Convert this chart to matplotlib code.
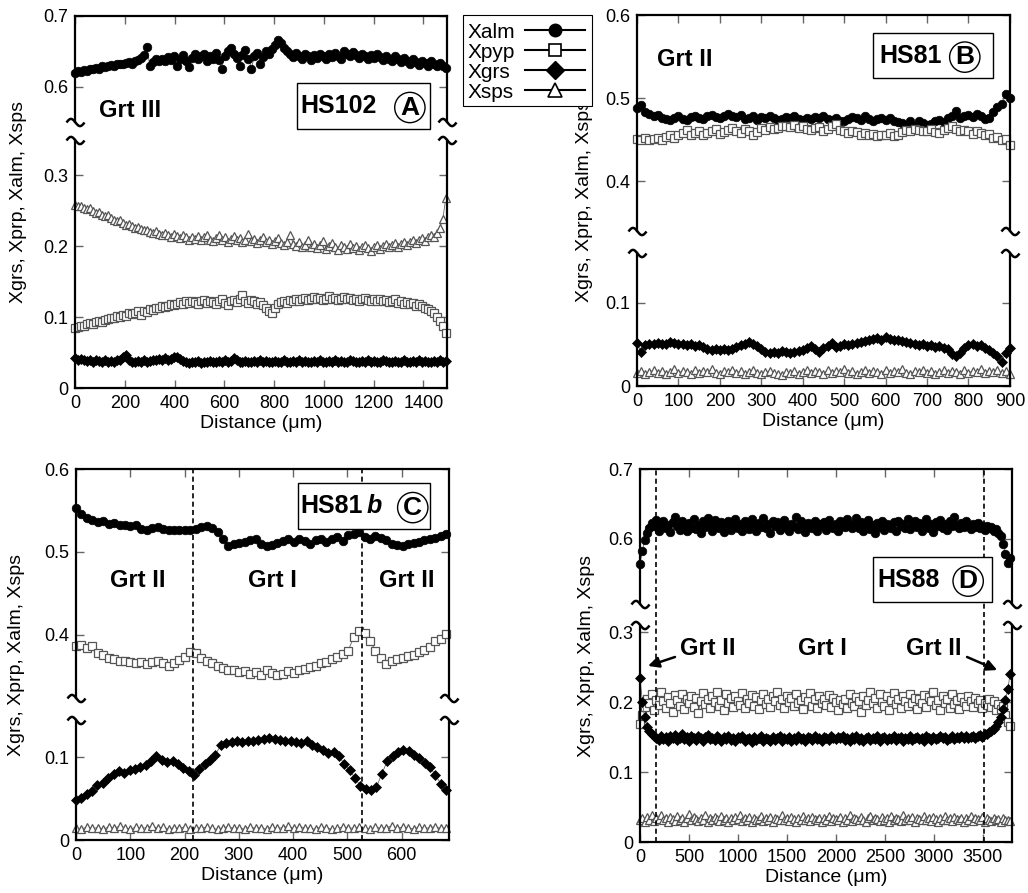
import numpy as np
import matplotlib.pyplot as plt
import matplotlib.transforms as mtransforms
from matplotlib.lines import Line2D
from matplotlib.patches import Rectangle
from matplotlib.path import Path
from matplotlib.ticker import NullLocator

plt.rcParams['font.family'] = ['Liberation Sans', 'DejaVu Sans']

# ---- profile data (mole fractions along the traverse) ----
# HS102, 0-1490 um
a_end = 1490
a_alm = [.619, .622, .621, .624, .623, .626, .625, .627, .626, .629,
         .628, .630, .631, .629, .632, .633, .632, .634, .635, .633,
         .636, .638, .641, .645, .656, .630, .635, .639, .637, .640,
         .636, .642, .638, .644, .629, .640, .645, .637, .628, .641,
         .646, .639, .643, .647, .636, .644, .640, .648, .638, .626,
         .643, .650, .655, .647, .641, .629, .645, .652, .640, .626,
         .644, .648, .632, .642, .650, .646, .653, .659, .666, .662,
         .655, .650, .646, .642, .648, .644, .640, .647, .643, .638,
         .645, .641, .647, .643, .639, .646, .642, .648, .644, .640,
         .651, .646, .643, .649, .645, .641, .647, .643, .639, .645,
         .641, .646, .642, .638, .644, .640, .636, .643, .639, .635,
         .641, .637, .633, .639, .635, .631, .637, .634, .630, .636,
         .632, .629, .634, .630, .627]
a_pyp = [.084, .086, .088, .087, .090, .091, .090, .093, .094, .093,
         .096, .097, .099, .098, .101, .100, .103, .102, .105, .104,
         .106, .108, .103, .109, .107, .111, .110, .113, .112, .115,
         .114, .116, .118, .117, .119, .121, .118, .122, .120, .123,
         .121, .119, .122, .124, .120, .123, .121, .118, .122, .125,
         .120, .117, .122, .124, .121, .126, .131, .123, .120, .124,
         .122, .119, .121, .117, .113, .108, .106, .112, .118, .121,
         .123, .120, .124, .122, .126, .123, .125, .127, .124, .126,
         .128, .125, .127, .124, .126, .129, .125, .127, .124, .126,
         .128, .125, .127, .124, .126, .123, .125, .127, .124, .122,
         .125, .123, .126, .122, .124, .121, .123, .125, .120, .122,
         .119, .121, .118, .120, .116, .118, .115, .113, .111, .109,
         .105, .100, .095, .088, .078]
a_grs = [.042, .040, .041, .039, .038, .040, .037, .039, .038, .036,
         .039, .037, .038, .036, .039, .040, .043, .047, .040, .037,
         .036, .038, .037, .039, .036, .038, .040, .039, .041, .040,
         .042, .039, .041, .043, .044, .041, .038, .036, .035, .037,
         .036, .038, .035, .037, .036, .038, .037, .036, .038, .037,
         .039, .037, .038, .042, .039, .036, .037, .038, .036, .037,
         .038, .036, .039, .037, .038, .036, .037, .038, .036, .037,
         .039, .037, .036, .038, .037, .039, .036, .038, .037, .036,
         .038, .037, .039, .036, .037, .038, .036, .039, .037, .038,
         .036, .037, .039, .038, .036, .037, .038, .036, .039, .037,
         .038, .036, .037, .039, .038, .036, .037, .038, .036, .037,
         .039, .037, .036, .038, .037, .039, .036, .038, .037, .036,
         .038, .037, .039, .036, .038]
a_sps = [.258, .256, .257, .254, .252, .253, .249, .247, .248, .244,
         .242, .243, .239, .237, .235, .236, .232, .230, .231, .228,
         .226, .227, .224, .222, .223, .220, .218, .221, .217, .215,
         .219, .216, .213, .217, .214, .211, .215, .212, .209, .213,
         .210, .214, .208, .212, .216, .209, .207, .211, .215, .208,
         .212, .206, .210, .214, .208, .211, .205, .209, .217, .207,
         .210, .204, .208, .212, .205, .209, .203, .207, .211, .204,
         .201, .206, .215, .203, .200, .205, .199, .202, .208, .198,
         .203, .197, .201, .207, .196, .200, .204, .198, .195, .202,
         .199, .196, .203, .197, .200, .194, .198, .201, .197, .193,
         .199, .202, .196, .200, .203, .198, .201, .204, .199, .203,
         .206, .201, .205, .209, .204, .208, .211, .207, .212, .215,
         .213, .219, .226, .238, .268]

# HS81, 0-900 um
b_end = 900
b_alm = [.488, .492, .483, .481, .478, .480, .476, .475, .474, .476, .478, .475, .474, .477, .479,
         .476, .475, .478, .480, .477, .476, .479, .481, .478, .477, .480, .475, .476, .478, .474,
         .477, .476, .478, .476, .474, .475, .477, .476, .479, .475, .474, .476, .475, .477, .476,
         .478, .475, .474, .476, .473, .472, .475, .477, .476, .474, .478, .475, .473, .475, .476,
         .474, .476, .473, .471, .470, .468, .472, .467, .472, .470, .468, .469, .472, .474, .471,
         .476, .478, .484, .476, .479, .480, .477, .481, .478, .475, .476, .483, .489, .493, .505, .500]
b_pyp = [.451, .450, .452, .449, .451, .452, .450, .453, .455, .452, .456, .458, .462, .455, .458,
         .460, .456, .458, .461, .463, .457, .459, .462, .464, .460, .458, .463, .461, .455, .459,
         .464, .462, .465, .463, .464, .466, .467, .465, .468, .464, .466, .463, .462, .464, .465,
         .461, .463, .466, .469, .462, .460, .458, .461, .459, .456, .458, .455, .457, .454, .456,
         .455, .458, .454, .456, .459, .462, .461, .463, .462, .460, .461, .463, .459, .458, .462,
         .464, .466, .463, .461, .462, .460, .457, .460, .458, .455, .457, .452, .453, .449, .451, .444]
b_grs = [.052, .041, .049, .051, .050, .052, .051, .050, .053, .052, .050, .051, .049, .050, .048,
         .049, .047, .045, .043, .044, .043, .044, .043, .045, .047, .049, .051, .053, .050, .048,
         .044, .041, .040, .041, .040, .042, .041, .040, .041, .042, .043, .046, .048, .045, .041,
         .046, .048, .052, .047, .048, .050, .049, .051, .052, .053, .054, .055, .057, .058, .056,
         .059, .057, .055, .056, .054, .053, .052, .051, .049, .050, .048, .049, .047, .048, .046,
         .044, .038, .036, .040, .046, .049, .050, .048, .049, .046, .043, .040, .036, .029, .040, .046]
b_sps = [.016, .018, .015, .017, .019, .016, .018, .015, .017, .020, .016, .018, .017, .015, .019,
         .016, .018, .017, .020, .016, .015, .018, .017, .019, .016, .018, .015, .017, .019, .016,
         .014, .017, .018, .016, .015, .013, .017, .016, .018, .015, .017, .019, .016, .018, .017,
         .015, .019, .016, .018, .017, .020, .016, .018, .015, .017, .019, .016, .018, .017, .015,
         .019, .016, .018, .017, .020, .016, .015, .018, .017, .019, .016, .018, .015, .017, .019,
         .016, .018, .017, .015, .019, .016, .018, .017, .020, .016, .018, .017, .019, .016, .018, .015]

# HS81b, 0-682 um
c_end = 682
c_alm = [.553, .546, .541, .538, .536, .537, .534, .535, .533, .532, .531, .533, .528, .527, .529,
         .530, .528, .526, .527, .526, .527, .527, .528, .530, .531, .529, .524, .516, .507, .509,
         .511, .512, .514, .516, .510, .507, .508, .511, .513, .515, .512, .516, .513, .510, .514,
         .516, .512, .515, .518, .513, .521, .522, .524, .518, .516, .519, .517, .514, .509, .508,
         .507, .509, .511, .512, .514, .516, .517, .519, .522]
c_pyp = [.387, .388, .384, .386, .378, .376, .372, .371, .369, .368, .367, .366, .367, .365, .367,
         .368, .366, .362, .366, .370, .373, .379, .378, .372, .369, .366, .363, .360, .358, .357,
         .355, .356, .353, .355, .352, .357, .354, .352, .353, .356, .354, .357, .359, .361, .363,
         .366, .367, .371, .373, .377, .381, .397, .405, .402, .393, .381, .372, .365, .368, .371,
         .372, .374, .376, .379, .382, .385, .392, .395, .401]
c_grs = [.048, .051, .055, .059, .066, .069, .075, .080, .083, .081, .084, .086, .088, .091, .095,
         .101, .097, .094, .095, .092, .087, .083, .078, .086, .092, .096, .103, .115, .117, .118,
         .119, .118, .119, .120, .121, .122, .123, .122, .121, .120, .119, .118, .117, .119, .115,
         .112, .108, .105, .106, .101, .092, .084, .075, .065, .062, .060, .064, .080, .095, .101,
         .106, .108, .107, .103, .099, .093, .088, .078, .068, .060]
c_sps = [.015, .013, .016, .014, .015, .013, .016, .014, .017, .015, .013, .016, .014, .015, .017,
         .014, .016, .013, .015, .014, .016, .013, .015, .014, .016, .014, .013, .015, .016, .014,
         .015, .013, .016, .014, .015, .013, .016, .014, .015, .017, .014, .016, .015, .014, .013,
         .016, .015, .013, .014, .016, .015, .014, .016, .015, .013, .016, .014, .015, .017, .014,
         .016, .015, .013, .016, .014, .015, .016, .014, .015]
c_bounds = [215, 527]

# HS88, 0-3780 um
d_end = 3780
d_alm = [.564, .583, .598, .609, .616, .623, .618, .627, .612, .621,
         .626, .615, .620, .610, .624, .631, .618, .613, .626, .619,
         .611, .623, .616, .628, .614, .620, .609, .625, .617, .630,
         .622, .612, .627, .619, .615, .624, .610, .621, .626, .613,
         .618, .629, .616, .622, .611, .625, .619, .614, .628, .620,
         .612, .623, .617, .630, .615, .621, .609, .626, .618, .624,
         .613, .620, .627, .616, .611, .622, .619, .632, .614, .625,
         .617, .610, .623, .620, .615, .626, .612, .621, .618, .624,
         .613, .627, .619, .616, .622, .611, .625, .620, .617, .628,
         .621, .615, .619, .630, .616, .624, .612, .618, .627, .614,
         .620, .609, .623, .617, .626, .613, .621, .618, .615, .624,
         .611, .625, .619, .622, .616, .628, .614, .620, .626, .617,
         .623, .612, .618, .629, .615, .621, .610, .624, .619, .627,
         .616, .622, .613, .626, .618, .631, .620, .615, .623, .617,
         .625, .619, .614, .621, .617, .623, .616, .619, .613, .618,
         .615, .617, .612, .614, .609, .604, .593, .579, .566, .573]
d_pyp = [.168, .181, .193, .205, .198, .211, .189, .203, .196, .214,
         .201, .192, .207, .199, .186, .210, .203, .195, .212, .190,
         .204, .198, .209, .193, .206, .184, .201, .213, .197, .205,
         .192, .208, .200, .215, .194, .203, .189, .211, .199, .206,
         .193, .209, .202, .196, .213, .191, .204, .199, .210, .195,
         .207, .190, .203, .212, .197, .205, .193, .208, .201, .214,
         .196, .204, .191, .209, .200, .206, .194, .211, .198, .203,
         .190, .207, .201, .213, .195, .205, .192, .209, .199, .204,
         .196, .210, .193, .206, .200, .188, .203, .197, .205, .191,
         .212, .199, .194, .207, .201, .186, .209, .196, .203, .215,
         .198, .206, .192, .211, .200, .195, .208, .189, .203, .213,
         .197, .205, .191, .209, .202, .194, .212, .199, .206, .190,
         .204, .198, .210, .193, .207, .201, .214, .196, .203, .188,
         .209, .199, .205, .192, .211, .197, .203, .190, .207, .200,
         .195, .208, .201, .193, .206, .198, .203, .191, .199, .196,
         .204, .193, .201, .188, .197, .190, .194, .182, .172, .166]
d_grs = [.235, .200, .178, .165, .158, .154, .151, .149, .146, .152,
         .147, .150, .144, .151, .148, .153, .146, .149, .155, .147,
         .150, .145, .152, .148, .146, .151, .149, .144, .150, .153,
         .147, .149, .146, .151, .148, .145, .150, .147, .152, .146,
         .149, .144, .150, .148, .151, .145, .147, .149, .143, .150,
         .146, .148, .152, .145, .149, .147, .144, .150, .146, .148,
         .151, .145, .149, .147, .150, .144, .148, .146, .151, .147,
         .149, .145, .150, .148, .146, .151, .147, .149, .145, .150,
         .148, .146, .151, .149, .147, .150, .148, .152, .146, .149,
         .145, .150, .147, .151, .146, .149, .144, .148, .150, .146,
         .149, .147, .151, .145, .148, .150, .146, .149, .147, .152,
         .146, .148, .150, .145, .149, .147, .151, .146, .148, .150,
         .147, .149, .145, .151, .148, .146, .150, .147, .149, .152,
         .148, .150, .146, .149, .151, .147, .150, .148, .152, .149,
         .151, .148, .150, .152, .149, .151, .153, .150, .154, .155,
         .157, .159, .162, .166, .171, .179, .190, .203, .218, .240]
d_sps = [.031, .034, .029, .036, .032, .038, .030, .035, .033, .039,
         .031, .034, .028, .036, .033, .030, .037, .032, .035, .029,
         .034, .040, .031, .036, .033, .030, .035, .032, .038, .029,
         .034, .031, .036, .033, .030, .037, .032, .034, .028, .035,
         .031, .036, .033, .039, .030, .034, .032, .036, .029, .035,
         .031, .033, .037, .030, .034, .032, .036, .029, .035, .033,
         .031, .038, .032, .034, .030, .036, .033, .029, .035, .031,
         .037, .032, .034, .030, .036, .033, .031, .035, .029, .034,
         .032, .037, .030, .035, .033, .031, .036, .029, .034, .032,
         .038, .030, .035, .033, .031, .036, .032, .028, .034, .037,
         .031, .035, .033, .030, .036, .032, .034, .029, .037, .031,
         .035, .033, .030, .038, .032, .034, .031, .036, .029, .035,
         .033, .031, .037, .032, .034, .030, .036, .033, .029, .035,
         .031, .037, .032, .034, .030, .036, .033, .031, .035, .029,
         .034, .032, .037, .030, .035, .033, .031, .036, .029, .034,
         .032, .030, .035, .031, .033, .029, .034, .031, .032, .030]
d_bounds = [163, 3510]

legend_labels = ['Xalm', 'Xpyp', 'Xgrs', 'Xsps']

W, H = 1028, 893
fig = plt.figure(figsize=(W / 100, H / 100), dpi=100)

# open tilde used as the axis-break mark
_t = np.linspace(-1, 1, 31)
TILDE = Path(np.column_stack([_t, -0.4 * np.sin(np.pi * _t)]))

STYLES = {
    'alm': dict(marker='o', ms=6.2, mfc='k', mec='k', mew=0.5),
    'pyp': dict(marker='s', ms=5.8, mfc='white', mec='#555', mew=0.9),
    'grs': dict(marker='D', ms=5.6, mfc='k', mec='k', mew=0.5),
    'sps': dict(marker='^', ms=6.4, mfc='white', mec='#555', mew=0.9),
}


def broken_scale(lo_max, hi_min, gap):
    src = [-10.0, lo_max, hi_min, 10.0]
    dst = [-10.0, lo_max, lo_max + gap, 10.0 - hi_min + lo_max + gap]
    return (lambda y: np.interp(y, src, dst)), (lambda v: np.interp(v, dst, src))


def setup_panel(rect, xlim, xticks, ylim, seg, yticks, ylab_x):
    ax = fig.add_axes(rect)
    ax.set_yscale('function', functions=broken_scale(*seg))
    ax.set_xlim(*xlim)
    ax.set_ylim(*ylim)
    ax.set_xticks(xticks)
    ax.set_yticks(yticks, ['0' if v == 0 else f'{v:.1f}' for v in yticks])
    ax.yaxis.set_minor_locator(NullLocator())
    ax.tick_params(direction='in', top=True, right=True, length=6, width=1,
                   color='#666', labelsize=13, pad=5)
    ax.spines[['left', 'right']].set_visible(False)
    for s in ('top', 'bottom'):
        ax.spines[s].set_linewidth(1.6)
    trans = mtransforms.blended_transform_factory(ax.transAxes, ax.transData)
    lo_max, hi_min, _ = seg
    for xs in (0, 1):
        for y0, y1 in ((ylim[0], lo_max), (hi_min, ylim[1])):
            ax.add_line(Line2D([xs, xs], [y0, y1], transform=trans, color='k',
                               lw=1.6, clip_on=False, zorder=5))
        ax.add_line(Line2D([xs, xs], [lo_max, hi_min], transform=trans, ls='none',
                           marker=TILDE, ms=13, mew=1.8, mfc='none', mec='k',
                           clip_on=False, zorder=5))
    ax.set_xlabel('Distance (μm)', fontsize=14, labelpad=2)
    ax.set_ylabel('Xgrs, Xprp, Xalm, Xsps', fontsize=14)
    ax.yaxis.set_label_coords(ylab_x, 0.5)
    return ax


def draw_profile(ax, end, alm, pyp, grs, sps):
    for key, vals in (('alm', alm), ('pyp', pyp), ('grs', grs), ('sps', sps)):
        x = np.linspace(0, end, len(vals))
        ax.plot(x, vals, '-', color='#666', lw=0.6, clip_on=False, **STYLES[key])


def sample_box(ax, x0, x1, y0, y1, name, letter, tx, cx, suffix=None):
    ax.add_patch(Rectangle((x0, y0), x1 - x0, y1 - y0, transform=ax.transAxes,
                           fc='white', ec='k', lw=1, zorder=6))
    ym = (y0 + y1) / 2
    t = ax.text(tx, ym, name, transform=ax.transAxes, fontsize=18,
                fontweight='bold', ha='left', va='center', zorder=7)
    if suffix:
        ax.annotate(suffix, xy=(1, 0), xycoords=t, xytext=(2, 0),
                    textcoords='offset points', fontsize=18, fontweight='bold',
                    fontstyle='italic', ha='left', va='bottom', zorder=7)
    ax.text(cx, ym - 0.004, letter, transform=ax.transAxes, fontsize=19,
            fontweight='bold', ha='center', va='center', zorder=7,
            bbox=dict(boxstyle='circle,pad=0.12', fc='none', ec='k', lw=1))


def grt(ax, x, y, s, ha='center'):
    ax.text(x, y, s, transform=ax.transAxes, fontsize=17, fontweight='bold',
            ha=ha, va='center')


# A
ax = setup_panel([0.0730, 0.5655, 0.3619, 0.4166], (0, 1495), range(0, 1401, 200),
                 (0, 0.7), (0.35, 0.55, 0.024), [0, 0.1, 0.2, 0.3, 0.6, 0.7], -0.13)
draw_profile(ax, a_end, a_alm, a_pyp, a_grs, a_sps)
grt(ax, 0.065, 0.747, 'Grt III', ha='left')
sample_box(ax, 0.597, 0.954, 0.696, 0.820, 'HS102', 'A', 0.605, 0.90)

# B
ax = setup_panel([0.6196, 0.5677, 0.3628, 0.4155], (0, 900), range(0, 901, 100),
                 (0, 0.6), (0.16, 0.34, 0.0265), [0, 0.1, 0.4, 0.5, 0.6], -0.118)
draw_profile(ax, b_end, b_alm, b_pyp, b_grs, b_sps)
grt(ax, 0.054, 0.879, 'Grt II', ha='left')
sample_box(ax, 0.633, 0.954, 0.830, 0.951, 'HS81', 'B', 0.649, 0.879)

# C
ax = setup_panel([0.0739, 0.0593, 0.3628, 0.4155], (0, 687), range(0, 601, 100),
                 (0, 0.6), (0.145, 0.324, 0.0265), [0, 0.1, 0.4, 0.5, 0.6], -0.137)
for b in c_bounds:
    ax.axvline(b, color='k', lw=1.2, ls=(0, (3, 2)), zorder=4)
draw_profile(ax, c_end, c_alm, c_pyp, c_grs, c_sps)
grt(ax, 0.166, 0.70, 'Grt II')
grt(ax, 0.528, 0.70, 'Grt I')
grt(ax, 0.887, 0.70, 'Grt II')
sample_box(ax, 0.595, 0.949, 0.838, 0.962, 'HS81', 'C', 0.603, 0.903, suffix='b')

# D
ax = setup_panel([0.6226, 0.0571, 0.3619, 0.4177], (0, 3800), range(0, 3501, 500),
                 (0, 0.7), (0.31, 0.507, 0.03), [0, 0.1, 0.2, 0.3, 0.6, 0.7], -0.121)
for b in d_bounds:
    ax.axvline(b, color='k', lw=1.2, ls=(0, (3, 2)), zorder=4)
draw_profile(ax, d_end, d_alm, d_pyp, d_grs, d_sps)
grt(ax, 0.183, 0.52, 'Grt II')
grt(ax, 0.489, 0.52, 'Grt I')
grt(ax, 0.790, 0.52, 'Grt II')
arrow = dict(arrowstyle='-|>', lw=1.8, color='k', mutation_scale=16, shrinkA=0, shrinkB=0)
ax.annotate('', xy=(0.0215, 0.472), xytext=(0.094, 0.496), xycoords='axes fraction', arrowprops=arrow)
ax.annotate('', xy=(0.96, 0.461), xytext=(0.879, 0.496), xycoords='axes fraction', arrowprops=arrow)
sample_box(ax, 0.626, 0.946, 0.643, 0.764, 'HS88', 'D', 0.638, 0.882)

# shared key between the top panels, labels left-aligned with the
# symbol on a line to their right
key_markers = [
    dict(marker='o', ms=9, mfc='k', mec='k'),
    dict(marker='s', ms=9, mfc='white', mec='k', mew=1.2),
    dict(marker='D', ms=9, mfc='k', mec='k'),
    dict(marker='^', ms=10, mfc='white', mec='k', mew=1.2),
]
fig.add_artist(Rectangle((463 / W, 1 - 106 / H), 129 / W, 91 / H, transform=fig.transFigure,
                         fc='white', ec='k', lw=0.8))
for i, (lab, mk) in enumerate(zip(legend_labels, key_markers)):
    yy = 1 - (30 + 20 * i) / H
    fig.text(468 / W, yy, lab, fontsize=15, ha='left', va='center_baseline')
    fig.add_artist(Line2D(np.array([525, 555, 585]) / W, [yy, yy, yy], transform=fig.transFigure,
                          color='k', lw=1.5, markevery=[1], **mk))

fig.savefig('out.png', dpi=100)
